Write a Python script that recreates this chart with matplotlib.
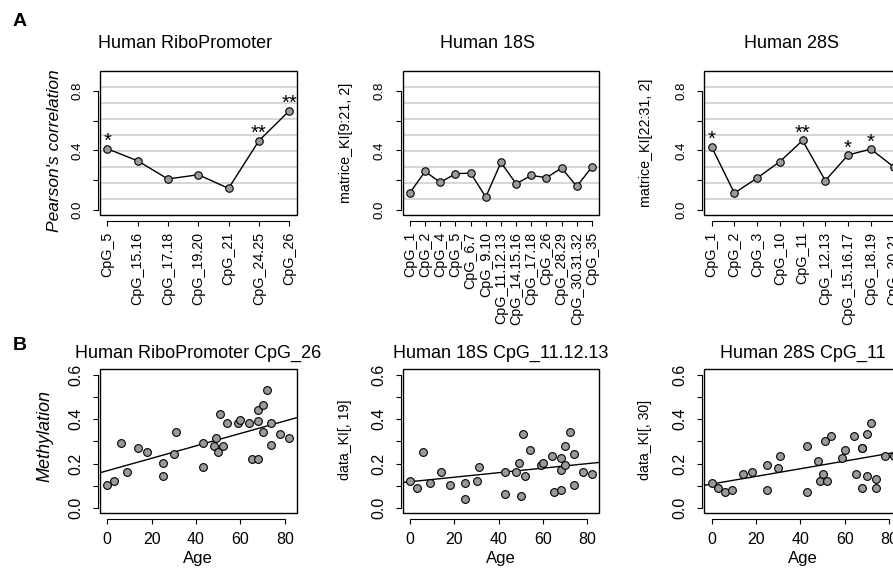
#!/usr/bin/env python3
"""Age correlation of rDNA CpG methylation: Pearson r per CpG (A) and scatter vs age (B)."""

import matplotlib
matplotlib.use("Agg")
import matplotlib.pyplot as plt
from matplotlib.patches import Rectangle
import numpy as np

plt.rcParams["font.family"] = ["Liberation Sans", "DejaVu Sans"]

W, H = 893, 570

# --- panel A: correlation per CpG -----------------------------------------
ribo_sites = ["CpG_5", "CpG_15.16", "CpG_17.18", "CpG_19.20", "CpG_21", "CpG_24.25", "CpG_26"]
ribo_corr = [0.411, 0.330, 0.207, 0.236, 0.144, 0.465, 0.667]
ribo_stars = ["*", "", "", "", "", "**", "**"]

s18_sites = ["CpG_1", "CpG_2", "CpG_4", "CpG_5", "CpG_6.7", "CpG_9.10", "CpG_11.12.13",
             "CpG_14.15.16", "CpG_17.18", "CpG_26", "CpG_28.29", "CpG_30.31.32", "CpG_35"]
s18_corr = [0.115, 0.258, 0.184, 0.243, 0.247, 0.085, 0.319, 0.175, 0.231, 0.216, 0.281, 0.157, 0.288]
s18_stars = [""] * len(s18_sites)

s28_sites = ["CpG_1", "CpG_2", "CpG_3", "CpG_10", "CpG_11", "CpG_12.13", "CpG_15.16.17",
             "CpG_18.19", "CpG_20.21"]
s28_corr = [0.425, 0.112, 0.213, 0.324, 0.467, 0.196, 0.369, 0.409, 0.290]
s28_stars = ["*", "", "", "", "**", "", "*", "*", ""]

# --- panel B: methylation vs age -------------------------------------------
ages = [0, 3, 6, 9, 14, 18, 25, 25, 30, 31, 43, 43, 48, 49, 50, 51, 52, 54, 59, 60,
        64, 65, 68, 68, 68, 70, 70, 72, 74, 74, 78, 82]
ribo_cpg26 = [0.103, 0.121, 0.293, 0.163, 0.272, 0.251, 0.202, 0.142, 0.241, 0.343,
              0.183, 0.292, 0.281, 0.313, 0.253, 0.422, 0.281, 0.382, 0.382, 0.394,
              0.382, 0.221, 0.221, 0.392, 0.443, 0.462, 0.343, 0.533, 0.383, 0.283,
              0.332, 0.313]
s18_cpg11 = [0.123, 0.090, 0.253, 0.111, 0.162, 0.102, 0.112, 0.042, 0.123, 0.183,
             0.163, 0.063, 0.163, 0.202, 0.052, 0.332, 0.142, 0.262, 0.193, 0.202,
             0.232, 0.072, 0.082, 0.172, 0.223, 0.281, 0.193, 0.341, 0.242, 0.102,
             0.162, 0.153]
s28_cpg11 = [0.112, 0.090, 0.070, 0.081, 0.151, 0.162, 0.192, 0.081, 0.181, 0.232,
             0.281, 0.070, 0.212, 0.121, 0.151, 0.302, 0.121, 0.322, 0.223, 0.262,
             0.322, 0.151, 0.272, 0.091, 0.270, 0.332, 0.142, 0.383, 0.132, 0.091,
             0.232, 0.232]

FILL = "#9a9a9a"


def px_axes(fig, left, top, width, height):
    return fig.add_axes([left / W, 1 - (top + height) / H, width / W, height / H])


def frame(ax, tick_fs, ypad, xpad, xrot=0):
    ax.add_patch(Rectangle((0, 0), 1, 1, transform=ax.transAxes, fill=False,
                           lw=1.0, ec="black", clip_on=False, zorder=5))
    ax.spines["top"].set_visible(False)
    ax.spines["right"].set_visible(False)
    ax.spines["bottom"].set_position(("outward", 4))
    ax.spines["left"].set_position(("outward", 1.5))
    for s in ("bottom", "left"):
        ax.spines[s].set_linewidth(0.8)
    ax.tick_params(axis="both", direction="out", length=3.6, width=0.8, labelsize=tick_fs)
    ax.tick_params(axis="y", pad=ypad, labelrotation=90)
    ax.tick_params(axis="x", pad=xpad, labelrotation=xrot)


def corr_panel(ax, sites, corr, stars):
    frame(ax, 9.5, 7, 4.5, xrot=90)
    ax.tick_params(axis="x", labelsize=10.3)
    n = len(sites)
    x = np.arange(1, n + 1)
    ax.set_xlim(1 - 0.04 * (n - 1), n + 0.04 * (n - 1))
    lo, hi = -0.036, 0.936
    ax.set_ylim(lo, hi)
    for k in range(1, 9):
        ax.axhline(lo + k * (hi - lo) / 9, color="#d0d0d0", lw=1.2, zorder=1)
    ax.plot(x, corr, color="black", lw=1.0, zorder=3)
    ax.plot(x, corr, "o", ms=5.4, mfc=FILL, mec="black", mew=0.8, zorder=4)
    for xi, yi, st in zip(x, corr, stars):
        if st:
            ax.annotate(st, (xi, yi), xytext=(0, 1.2), textcoords="offset points",
                        ha="center", va="baseline", fontsize=14.5)
    ax.set_xticks(x)
    ax.set_xticklabels(sites)
    ax.set_yticks([0.0, 0.2, 0.4, 0.6, 0.8])
    ax.set_yticklabels(["0.0", "", "0.4", "", "0.8"], va="center")
    ax.spines["bottom"].set_bounds(1, n)
    ax.spines["left"].set_bounds(0, 0.8)


def age_panel(ax, vals):
    frame(ax, 11.5, 7, 6)
    ax.set_xlim(-3.28, 85.28)
    ax.set_ylim(-0.024, 0.624)
    ax.plot(ages, vals, "o", ms=5.6, mfc=FILL, mec="black", mew=0.8, zorder=4)
    slope, icpt = np.polyfit(ages, vals, 1)
    ax.axline((0, icpt), slope=slope, color="black", lw=1.0, zorder=3)
    ax.set_xticks([0, 20, 40, 60, 80])
    ax.set_yticks([0.0, 0.1, 0.2, 0.3, 0.4, 0.5, 0.6])
    ax.set_yticklabels(["0.0", "", "0.2", "", "0.4", "", "0.6"], va="center")
    ax.spines["bottom"].set_bounds(0, 80)
    ax.spines["left"].set_bounds(0, 0.6)
    ax.set_xlabel("Age", fontsize=12, labelpad=3)


fig = plt.figure(figsize=(W / 100, H / 100), dpi=100)

tops = [(100, ribo_sites, ribo_corr, ribo_stars),
        (402.7, s18_sites, s18_corr, s18_stars),
        (704.3, s28_sites, s28_corr, s28_stars)]
for left, sites, corr, stars in tops:
    ax = px_axes(fig, left, 71, 196.5, 144)
    corr_panel(ax, sites, corr, stars)

bottoms = [(100, ribo_cpg26, "Human RiboPromoter CpG_26"),
           (402.7, s18_cpg11, "Human 18S CpG_11.12.13"),
           (704.3, s28_cpg11, "Human 28S CpG_11")]
for left, vals, title in bottoms:
    ax = px_axes(fig, left, 369.3, 196.5, 144)
    age_panel(ax, vals)
    ax.set_title(title, fontsize=13, pad=8)

# top-row titles
for xc, t in [(185.5, "Human RiboPromoter"), (487.5, "Human 18S"), (792, "Human 28S")]:
    fig.text(xc / W, 1 - 43.5 / H, t, fontsize=13, ha="center", va="center")

# y labels
fig.text(55 / W, 1 - 151 / H, "Pearson's correlation", rotation=90, fontsize=12.5,
         style="italic", ha="center", va="center")
fig.text(346 / W, 1 - 143 / H, "matrice_KI[9:21, 2]", rotation=90, fontsize=10.3,
         ha="center", va="center")
fig.text(646 / W, 1 - 143 / H, "matrice_KI[22:31, 2]", rotation=90, fontsize=10.3,
         ha="center", va="center")
fig.text(45 / W, 1 - 436 / H, "Methylation", rotation=90, fontsize=13,
         style="italic", ha="center", va="center")
fig.text(345.5 / W, 1 - 440 / H, "data_KI[, 19]", rotation=90, fontsize=10.2,
         ha="center", va="center")
fig.text(645.5 / W, 1 - 440 / H, "data_KI[, 30]", rotation=90, fontsize=10.2,
         ha="center", va="center")

# panel letters
fig.text(20 / W, 1 - 21.5 / H, "A", fontsize=14, fontweight="bold", ha="center", va="center")
fig.text(19.5 / W, 1 - 345 / H, "B", fontsize=14, fontweight="bold", ha="center", va="center")

fig.savefig("out.png", dpi=100)
